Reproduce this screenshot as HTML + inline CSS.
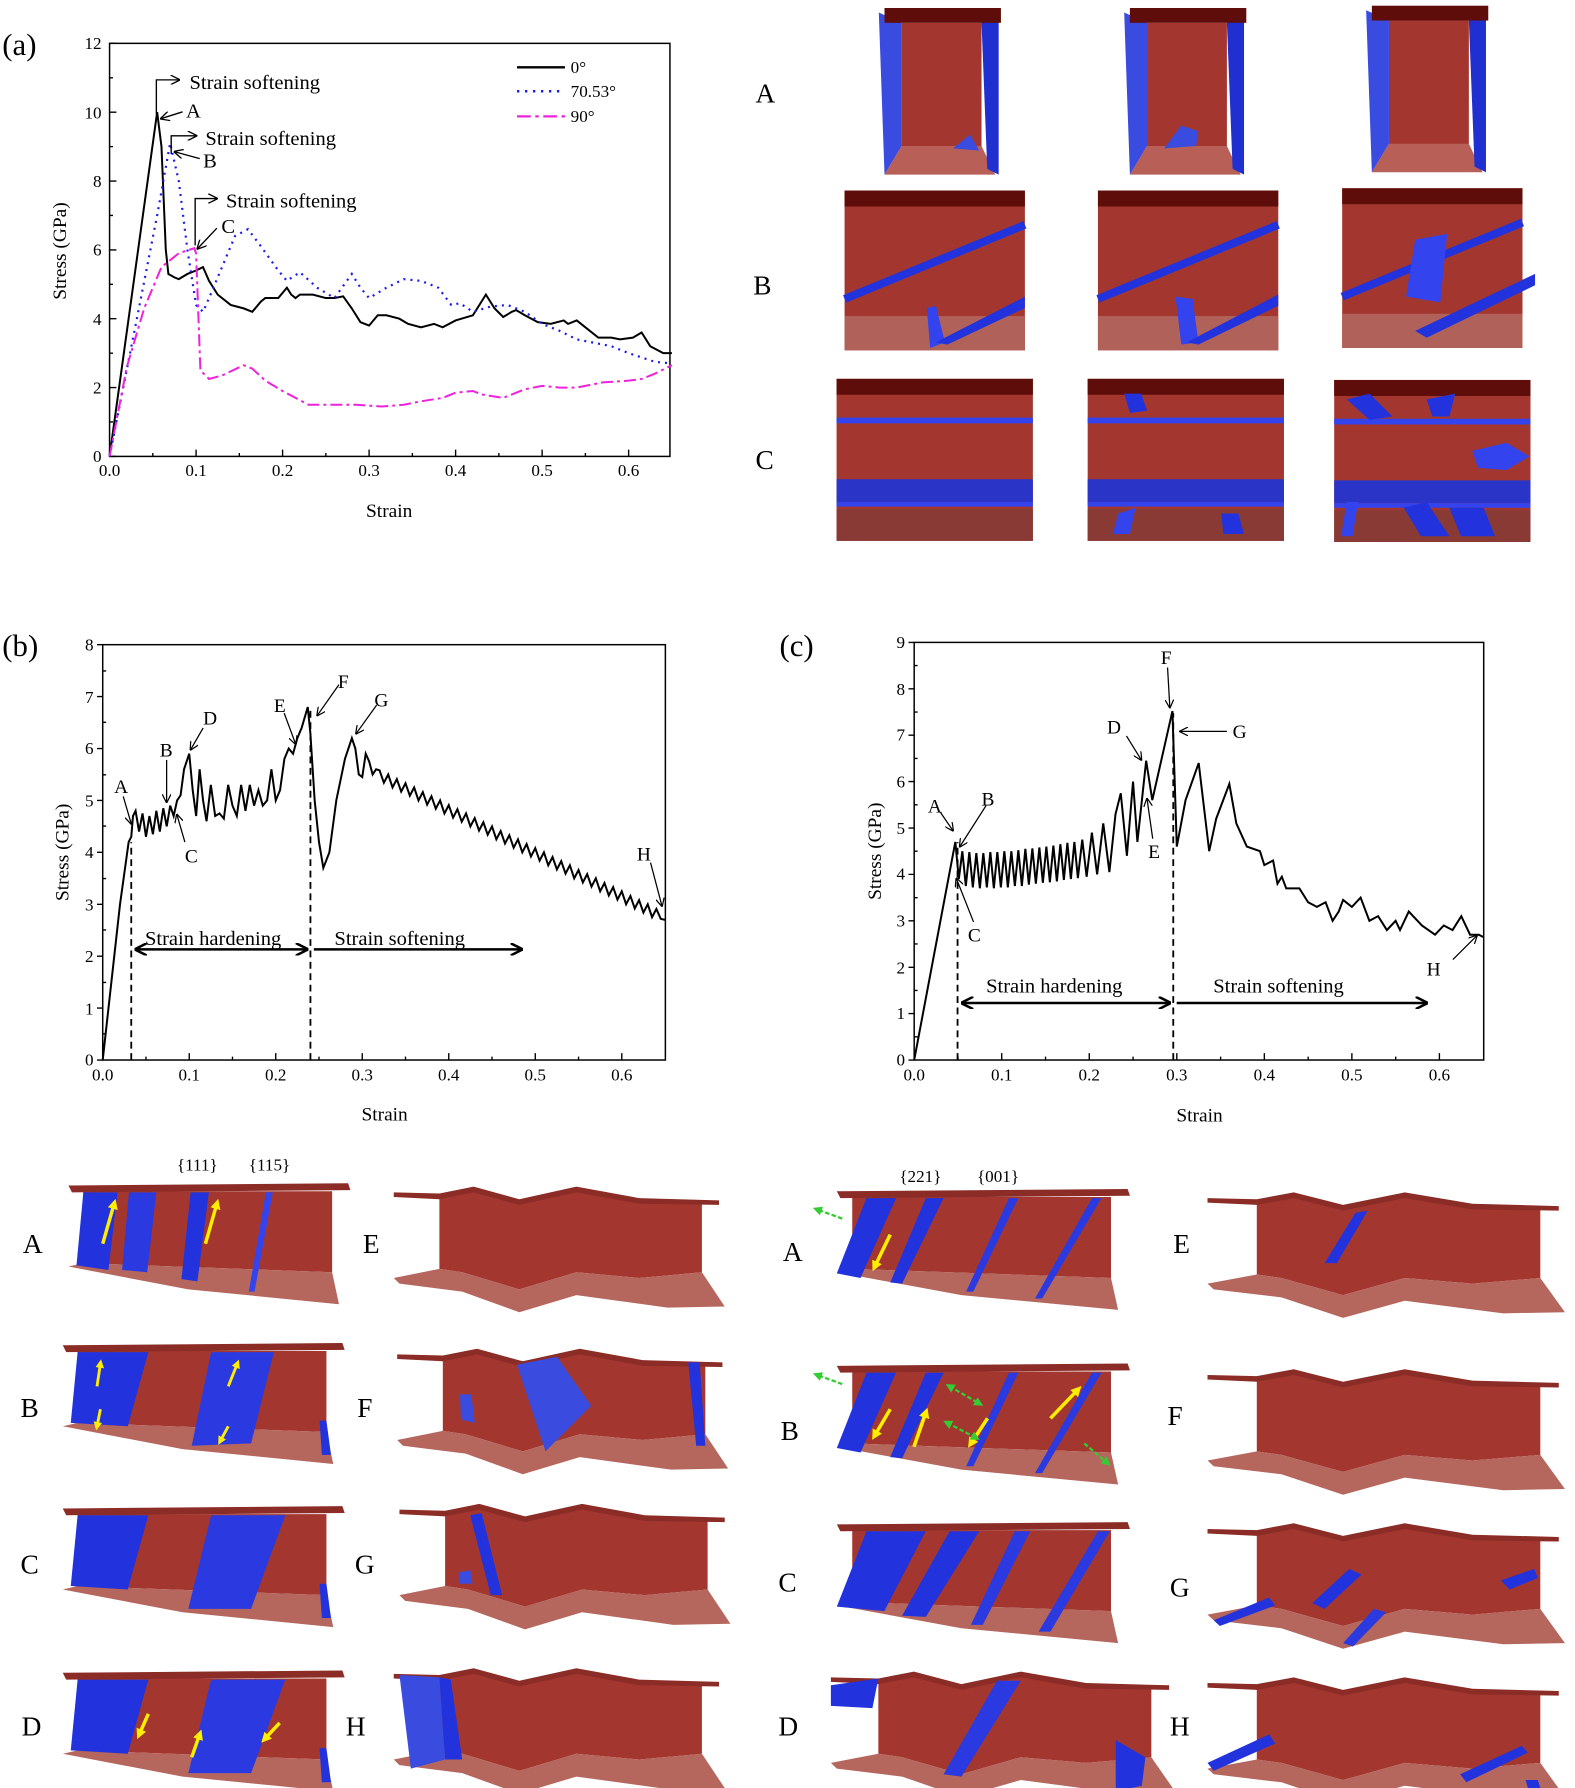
<!DOCTYPE html>
<html><head><meta charset="utf-8"><style>
html,body{margin:0;padding:0;background:#fff;}
svg{display:block;}
text{font-family:"Liberation Serif",serif;fill:#000;}
</style></head><body>
<svg width="1575" height="1788" viewBox="0 0 1380 1567" preserveAspectRatio="none" xmlns="http://www.w3.org/2000/svg">
<defs>
<marker id="ar" viewBox="0 0 10 10" refX="9" refY="5" markerWidth="7" markerHeight="7" orient="auto-start-reverse"><path d="M0,0 L10,5 L0,10" fill="none" stroke="#000" stroke-width="1.4"/></marker>
<marker id="arf" viewBox="0 0 10 10" refX="9" refY="5" markerWidth="5" markerHeight="5" orient="auto-start-reverse"><path d="M0,0 L10,5 L0,10" fill="none" stroke="#000" stroke-width="2"/></marker>
<marker id="ya" viewBox="0 0 10 10" refX="5" refY="5" markerWidth="3" markerHeight="3" orient="auto"><path d="M0,0 L10,5 L0,10z" fill="#ffee00"/></marker>
<marker id="ga" viewBox="0 0 10 10" refX="5" refY="5" markerWidth="4" markerHeight="4" orient="auto-start-reverse"><path d="M0,0 L10,5 L0,10z" fill="#33cc33"/></marker>
<g id="L">
<polygon points="18,9 236,9 236,80 18,72" fill="#a3372f"/>
<polygon points="5,75 18,72 236,80 242,108 110,95" fill="#b5665d"/>
<polygon points="5,4 250,2 252,8 8,10" fill="#8c2c26"/>
</g>
<g id="Z">
<polygon points="40,10 70,3 110,14 160,3 215,14 270,12 270,75 215,80 160,75 110,90 60,75 40,72" fill="#a3372f"/>
<polygon points="0,80 40,72 60,75 110,90 160,75 215,80 270,75 290,105 240,106 160,95 110,110 60,92 5,85" fill="#b5665d"/>
<polygon points="0,5 40,6 70,0 110,11 160,0 215,10 285,12 285,16 215,15 160,5 110,16 70,5 40,11 0,9" fill="#8c2c26"/>
</g>
<g id="TA">
<rect x="20" y="17" width="70" height="110" fill="#a3372f"/>
<polygon points="20,125 90,125 102,150 5,150" fill="#b86058"/>
<polygon points="0,8 20,17 20,125 5,150" fill="#3a4be0"/>
<polygon points="90,17 105,8 105,150 95,145" fill="#1f2fd0"/>
<rect x="5" y="4" width="102" height="13" fill="#5e0d0a"/>
</g>
<g id="TB">
<rect x="0" y="0" width="158" height="140" fill="#a3372f"/>
<rect x="0" y="110" width="158" height="30" fill="#b0625a"/>
<rect x="0" y="0" width="158" height="14" fill="#5e0d0a"/>
<line x1="0" y1="95" x2="158" y2="30" stroke="#2233dd" stroke-width="7"/>
</g>
<g id="TC">
<rect x="0" y="0" width="172" height="142" fill="#a3372f"/>
<rect x="0" y="0" width="172" height="14" fill="#5e0d0a"/>
<rect x="0" y="34" width="172" height="5" fill="#3344ee"/>
<rect x="0" y="88" width="172" height="20" fill="#2a35c8"/>
<rect x="0" y="108" width="172" height="4" fill="#3344ee"/>
<rect x="0" y="114" width="172" height="28" fill="#8a3a34"/>
</g>
</defs>

<!-- ===== (a) ===== -->
<text x="2" y="48" font-size="27">(a)</text>
<rect x="96" y="38" width="491" height="362" fill="none" stroke="#000" stroke-width="1.3"/>
<path d="M96,400v-6M171.8,400v-6M247.6,400v-6M323.4,400v-6M399.2,400v-6M475,400v-6M550.8,400v-6M133.9,400v-3M209.7,400v-3M285.5,400v-3M361.3,400v-3M437.1,400v-3M512.9,400v-3M96,400h6M96,339.7h6M96,279.3h6M96,219h6M96,158.7h6M96,98.3h6M96,38h6M96,369.8h3M96,309.5h3M96,249.2h3M96,188.8h3M96,128.5h3M96,68.2h3" stroke="#000" stroke-width="1.2"/>
<g font-size="15" text-anchor="middle">
<text x="96" y="417">0.0</text><text x="171.8" y="417">0.1</text><text x="247.6" y="417">0.2</text><text x="323.4" y="417">0.3</text><text x="399.2" y="417">0.4</text><text x="475" y="417">0.5</text><text x="550.8" y="417">0.6</text>
</g>
<g font-size="15" text-anchor="end">
<text x="89" y="405">0</text><text x="89" y="345">2</text><text x="89" y="285">4</text><text x="89" y="224">6</text><text x="89" y="164">8</text><text x="89" y="104">10</text><text x="89" y="43">12</text>
</g>
<text x="341" y="453" font-size="17" text-anchor="middle">Strain</text>
<text transform="translate(58,220) rotate(-90)" font-size="17" text-anchor="middle">Stress (GPa)</text>
<g transform="translate(96,400) scale(0.758,-0.3017)" fill="none">
<path vector-effect="non-scaling-stroke" stroke="#000" stroke-width="2" d="M0,0L55,1000L60,900L65,600L68,530L75,520L80,515L90,530L100,540L108,550L115,510L125,470L140,440L155,430L165,420L175,450L180,460L195,460L205,490L210,470L215,460L220,470L235,470L250,460L260,460L270,465L280,430L290,390L300,380L310,410L320,410L335,400L345,385L360,375L375,385L385,375L400,395L420,410L435,470L445,430L455,405L465,420L470,425L480,410L495,390L510,385L525,395L530,385L540,395L550,375L565,345L580,345L590,340L605,345L615,360L625,320L640,300L650,300"/>
<path vector-effect="non-scaling-stroke" stroke="#1a1aee" stroke-width="2.2" stroke-dasharray="2,5" d="M0,0L30,380L55,700L70,910L80,800L90,600L100,440L108,420L115,460L130,550L145,640L160,660L175,610L195,540L205,510L220,535L240,490L260,460L280,530L290,490L300,460L320,490L340,515L360,510L380,490L395,440L405,445L420,420L440,435L460,440L480,420L500,385L520,365L540,340L580,320L600,300L630,275L650,270"/>
<path vector-effect="non-scaling-stroke" stroke="#ee22dd" stroke-width="2" stroke-dasharray="12,4,3,4" d="M0,0L20,260L40,430L60,550L80,590L98,605L100,590L105,250L115,225L130,235L155,265L165,255L180,220L200,190L230,150L255,150L285,150L315,145L340,150L360,160L385,170L400,185L420,190L430,180L455,170L480,195L500,205L520,200L540,200L570,215L600,220L615,225L630,240L650,265"/>
</g>
<line x1="453" y1="59" x2="495" y2="59" stroke="#000" stroke-width="2"/>
<line x1="453" y1="80" x2="495" y2="80" stroke="#1a1aee" stroke-width="2.2" stroke-dasharray="2,5"/>
<line x1="453" y1="102" x2="495" y2="102" stroke="#ee22dd" stroke-width="2" stroke-dasharray="12,4,3,4"/>
<g font-size="15"><text x="500" y="64">0°</text><text x="500" y="85">70.53°</text><text x="500" y="107">90°</text></g>
<g fill="none" stroke="#000" stroke-width="1.2">
<path d="M137,100V70H157" marker-end="url(#ar)"/>
<path d="M150,135V119H172" marker-end="url(#ar)"/>
<path d="M171,215V174H190" marker-end="url(#ar)"/>
<path d="M160,98L141,104" marker-end="url(#ar)"/>
<path d="M175,139L153,133" marker-end="url(#ar)"/>
<path d="M190,200L173,218" marker-end="url(#ar)"/>
</g>
<g font-size="18">
<text x="166" y="78">Strain softening</text><text x="180" y="127">Strain softening</text><text x="198" y="182">Strain softening</text>
<text x="163" y="103">A</text><text x="178" y="147">B</text><text x="194" y="204">C</text>
</g>

<!-- top-right images -->
<g font-size="24"><text x="662" y="90">A</text><text x="660" y="258">B</text><text x="662" y="411">C</text></g>
<use href="#TA" x="770" y="3"/><use href="#TA" x="985" y="3"/><use href="#TA" x="1197" y="1"/>
<polygon points="835,130 850,118 858,132" fill="#3a4be0"/>
<polygon points="1020,130 1035,110 1050,115 1048,128" fill="#3a4be0"/>
<use href="#TB" x="740" y="167"/><use href="#TB" x="962" y="167"/><use href="#TB" x="1176" y="165"/>
<polygon points="812,270 820,268 828,300 815,305" fill="#3344ee"/>
<polygon points="820,300 898,260 898,270 830,302" fill="#2233dd"/>
<polygon points="1030,260 1045,262 1050,300 1035,302" fill="#3344ee"/>
<polygon points="1040,300 1120,258 1120,268 1050,302" fill="#2233dd"/>
<polygon points="1240,210 1268,205 1262,265 1232,260" fill="#3344ee"/>
<polygon points="1240,290 1345,240 1345,250 1250,296" fill="#2233dd"/>
<use href="#TC" x="733" y="332"/><use href="#TC" x="953" y="332"/><use href="#TC" x="1169" y="333"/>
<polygon points="1290,395 1320,388 1340,400 1320,412 1295,410" fill="#3344ee"/>
<polygon points="1180,440 1190,440 1185,470 1175,470" fill="#3344ee"/>
<polygon points="1230,445 1250,440 1270,470 1245,470" fill="#2233dd"/>
<polygon points="1270,445 1300,445 1310,470 1280,470" fill="#2233dd"/>
<polygon points="1180,350 1200,345 1220,365 1200,368" fill="#2233dd"/>
<polygon points="1250,350 1275,345 1270,365 1255,365" fill="#2233dd"/>
<polygon points="980,450 995,445 990,468 975,468" fill="#3344ee"/>
<polygon points="1070,450 1085,450 1090,468 1072,468" fill="#2233dd"/>
<polygon points="985,345 1000,345 1005,360 990,362" fill="#2233dd"/>

<!-- ===== (b) ===== -->
<text x="2" y="575" font-size="27">(b)</text>
<rect x="90" y="565" width="493" height="364" fill="none" stroke="#000" stroke-width="1.3"/>
<path d="M90,929v-6M165.8,929v-6M241.6,929v-6M317.4,929v-6M393.2,929v-6M469,929v-6M544.8,929v-6M127.9,929v-3M203.7,929v-3M279.5,929v-3M355.3,929v-3M431.1,929v-3M506.9,929v-3M90,929h-5M90,883.5h-5M90,838h-5M90,792.5h-5M90,747h-5M90,701.5h-5M90,656h-5M90,610.5h-5M90,565h-5M90,906h3M90,861h3M90,815h3M90,770h3M90,724h3M90,679h3M90,633h3M90,588h3" stroke="#000" stroke-width="1.2"/>
<g font-size="15" text-anchor="middle">
<text x="90" y="947">0.0</text><text x="165.8" y="947">0.1</text><text x="241.6" y="947">0.2</text><text x="317.4" y="947">0.3</text><text x="393.2" y="947">0.4</text><text x="469" y="947">0.5</text><text x="544.8" y="947">0.6</text>
</g>
<g font-size="15" text-anchor="end">
<text x="82" y="934">0</text><text x="82" y="889">1</text><text x="82" y="843">2</text><text x="82" y="798">3</text><text x="82" y="752">4</text><text x="82" y="707">5</text><text x="82" y="661">6</text><text x="82" y="616">7</text><text x="82" y="570">8</text>
</g>
<text x="337" y="982" font-size="17" text-anchor="middle">Strain</text>
<text transform="translate(60,747) rotate(-90)" font-size="17" text-anchor="middle">Stress (GPa)</text>
<g transform="translate(90,929) scale(0.758,-0.455)" fill="none">
<path vector-effect="non-scaling-stroke" stroke="#000" stroke-width="2" d="M0,0L20,300L30,420L33,430L35,470L38,480L42,440L46,475L50,430L54,470L58,435L62,480L66,440L70,485L74,450L78,490L82,470L86,500L90,510L94,560L100,590L104,520L108,470L112,560L116,500L120,460L125,530L130,470L135,475L140,465L145,530L150,490L155,470L160,530L165,480L170,530L175,490L180,520L185,490L190,500L195,560L200,500L205,520L210,580L215,600L220,590L225,620L230,640L237,680L240,630L245,500L250,420L255,370L262,400L270,500L280,580L288,620L292,600L296,550L300,545L304,590L308,575L312,550L316,560L320,558L325,534L330,550L335,525L340,541L345,517L350,533L355,509L360,525L365,500L370,516L375,492L380,508L385,484L390,500L395,475L400,491L405,467L410,483L415,459L420,475L425,450L430,466L435,442L440,458L445,434L450,450L455,425L460,441L465,417L470,433L475,409L480,425L485,400L490,416L495,392L500,408L505,384L510,400L515,375L520,391L525,367L530,383L535,359L540,375L545,350L550,366L555,342L560,358L565,334L570,350L575,325L580,341L585,317L590,333L595,309L600,325L605,300L610,316L615,292L620,308L625,284L630,300L635,275L640,291L645,272L650,270"/>
</g>
<g stroke="#000" stroke-width="1.6" stroke-dasharray="6,4"><line x1="115" y1="929" x2="115" y2="738"/><line x1="272" y1="929" x2="272" y2="619"/></g>
<g stroke="#000" stroke-width="2.2" fill="none"><line x1="119" y1="832" x2="269" y2="832" marker-start="url(#arf)" marker-end="url(#arf)"/><line x1="275" y1="832" x2="457" y2="832" marker-end="url(#arf)"/></g>
<g font-size="18"><text x="127" y="828">Strain hardening</text><text x="293" y="828">Strain softening</text></g>
<g fill="none" stroke="#000" stroke-width="1.1">
<path d="M108,698L115,722" marker-end="url(#ar)"/>
<path d="M146,666L146,703" marker-end="url(#ar)"/>
<path d="M162,738L155,714" marker-end="url(#ar)"/>
<path d="M178,638L167,657" marker-end="url(#ar)"/>
<path d="M249,625L259,652" marker-end="url(#ar)"/>
<path d="M297,600L278,627" marker-end="url(#ar)"/>
<path d="M330,618L312,643" marker-end="url(#ar)"/>
<path d="M570,756L580,794" marker-end="url(#ar)"/>
</g>
<g font-size="17"><text x="100" y="695">A</text><text x="140" y="663">B</text><text x="162" y="756">C</text><text x="178" y="635">D</text><text x="240" y="624">E</text><text x="296" y="603">F</text><text x="328" y="619">G</text><text x="558" y="754">H</text></g>

<!-- ===== (c) ===== -->
<text x="683" y="575" font-size="27">(c)</text>
<rect x="801" y="563" width="499" height="366" fill="none" stroke="#000" stroke-width="1.3"/>
<path d="M801,929v-6M877.7,929v-6M954.4,929v-6M1031.1,929v-6M1107.8,929v-6M1184.5,929v-6M1261.2,929v-6M839.4,929v-3M916.1,929v-3M992.8,929v-3M1069.5,929v-3M1146.2,929v-3M1222.9,929v-3M801,929h-5M801,888.3h-5M801,847.7h-5M801,807h-5M801,766.3h-5M801,725.7h-5M801,685h-5M801,644.3h-5M801,603.7h-5M801,563h-5M801,908.7h3M801,868h3M801,827.3h3M801,786.7h3M801,746h3M801,705.3h3M801,664.7h3M801,624h3M801,583.3h3" stroke="#000" stroke-width="1.2"/>
<g font-size="15" text-anchor="middle">
<text x="801" y="947">0.0</text><text x="877.7" y="947">0.1</text><text x="954.4" y="947">0.2</text><text x="1031.1" y="947">0.3</text><text x="1107.8" y="947">0.4</text><text x="1184.5" y="947">0.5</text><text x="1261.2" y="947">0.6</text>
</g>
<g font-size="15" text-anchor="end">
<text x="793" y="934">0</text><text x="793" y="893">1</text><text x="793" y="853">2</text><text x="793" y="812">3</text><text x="793" y="771">4</text><text x="793" y="731">5</text><text x="793" y="690">6</text><text x="793" y="649">7</text><text x="793" y="609">8</text><text x="793" y="568">9</text>
</g>
<text x="1051" y="983" font-size="17" text-anchor="middle">Strain</text>
<text transform="translate(772,746) rotate(-90)" font-size="17" text-anchor="middle">Stress (GPa)</text>
<g transform="translate(801,929) scale(0.767,-0.4067)" fill="none">
<path vector-effect="non-scaling-stroke" stroke="#000" stroke-width="2" d="M0,0L47,470L51,390L55,450L59,375L63,448L67,372L71,446L75,370L79,446L83,372L87,448L91,370L95,448L99,372L103,450L107,372L111,450L115,375L119,452L123,375L127,455L131,378L135,456L139,380L143,458L147,382L151,460L155,383L159,462L163,385L167,465L171,388L175,468L179,390L183,470L187,392L192,475L197,395L203,490L209,400L216,510L223,405L230,530L236,575L243,440L250,600L255,470L265,645L272,560L295,752L300,460L310,560L325,640L337,450L345,520L360,595L368,510L380,460L395,450L400,420L410,430L415,380L420,395L425,370L440,370L450,340L460,330L470,340L478,300L485,320L490,345L500,330L510,350L520,300L530,310L540,280L550,300L555,280L565,320L580,290L595,270L605,290L615,280L625,310L635,270L645,270L650,265"/>
</g>
<g stroke="#000" stroke-width="1.6" stroke-dasharray="6,4"><line x1="839" y1="929" x2="839" y2="738"/><line x1="1028" y1="929" x2="1028" y2="625"/></g>
<g stroke="#000" stroke-width="2.2" fill="none"><line x1="843" y1="879" x2="1025" y2="879" marker-start="url(#arf)" marker-end="url(#arf)"/><line x1="1031" y1="879" x2="1250" y2="879" marker-end="url(#arf)"/></g>
<g font-size="18"><text x="864" y="870">Strain hardening</text><text x="1063" y="870">Strain softening</text></g>
<g fill="none" stroke="#000" stroke-width="1.1">
<path d="M824,712L835,728" marker-end="url(#ar)"/>
<path d="M864,706L841,742" marker-end="url(#ar)"/>
<path d="M853,808L838,770" marker-end="url(#ar)"/>
<path d="M987,645L1000,666" marker-end="url(#ar)"/>
<path d="M1010,735L1005,700" marker-end="url(#ar)"/>
<path d="M1023,585L1025,620" marker-end="url(#ar)"/>
<path d="M1075,641L1034,641" marker-end="url(#ar)"/>
<path d="M1273,841L1294,820" marker-end="url(#ar)"/>
</g>
<g font-size="17"><text x="813" y="712">A</text><text x="860" y="706">B</text><text x="848" y="825">C</text><text x="970" y="643">D</text><text x="1006" y="752">E</text><text x="1017" y="582">F</text><text x="1080" y="647">G</text><text x="1250" y="855">H</text></g>

<!-- ===== bottom (b) images ===== -->
<g font-size="15"><text x="155" y="1026">{111}</text><text x="218" y="1026">{115}</text><text x="788" y="1036">{221}</text><text x="856" y="1036">{001}</text></g>
<g font-size="24">
<text x="20" y="1098">A</text><text x="318" y="1098">E</text>
<text x="18" y="1242">B</text><text x="313" y="1242">F</text>
<text x="18" y="1379">C</text><text x="311" y="1379">G</text>
<text x="19" y="1521">D</text><text x="303" y="1521">H</text>
<text x="686" y="1105">A</text><text x="1028" y="1098">E</text>
<text x="684" y="1262">B</text><text x="1023" y="1249">F</text>
<text x="682" y="1395">C</text><text x="1025" y="1399">G</text>
<text x="682" y="1521">D</text><text x="1025" y="1521">H</text>
</g>
<g transform="translate(55,1035)"><use href="#L"/>
<polygon points="18,10 48,10 40,78 12,74" fill="#2233dd"/><polygon points="58,10 82,10 74,80 52,78" fill="#2a3ae0"/>
<polygon points="112,10 128,10 118,88 104,86" fill="#2233dd"/><polygon points="178,10 184,10 168,97 163,97" fill="#3344ee"/>
<line x1="35" y1="55" x2="45" y2="20" stroke="#ffee00" stroke-width="3" marker-end="url(#ya)"/><line x1="125" y1="55" x2="135" y2="20" stroke="#ffee00" stroke-width="3" marker-end="url(#ya)"/></g>
<g transform="translate(50,1175)"><use href="#L"/>
<polygon points="18,10 80,10 62,75 12,72" fill="#2233dd"/><polygon points="135,10 190,10 170,90 118,92" fill="#2a3ae0"/>
<polygon points="230,70 236,70 240,100 232,100" fill="#2233dd"/>
<line x1="35" y1="40" x2="38" y2="20" stroke="#ffee00" stroke-width="2.5" marker-end="url(#ya)"/><line x1="38" y1="60" x2="35" y2="75" stroke="#ffee00" stroke-width="2.5" marker-end="url(#ya)"/>
<line x1="150" y1="40" x2="158" y2="20" stroke="#ffee00" stroke-width="2.5" marker-end="url(#ya)"/><line x1="150" y1="75" x2="143" y2="88" stroke="#ffee00" stroke-width="2.5" marker-end="url(#ya)"/></g>
<g transform="translate(50,1318)"><use href="#L"/>
<polygon points="18,10 80,10 62,75 12,72" fill="#2233dd"/><polygon points="135,10 200,10 170,92 115,92" fill="#2a3ae0"/>
<polygon points="230,70 236,70 240,100 232,100" fill="#2233dd"/></g>
<g transform="translate(50,1462)"><use href="#L"/>
<polygon points="18,10 80,10 62,75 12,72" fill="#2233dd"/><polygon points="135,10 200,10 170,92 115,92" fill="#2a3ae0"/>
<polygon points="230,70 236,70 240,100 232,100" fill="#2233dd"/>
<line x1="80" y1="40" x2="72" y2="58" stroke="#ffee00" stroke-width="3" marker-end="url(#ya)"/><line x1="118" y1="78" x2="125" y2="58" stroke="#ffee00" stroke-width="3" marker-end="url(#ya)"/><line x1="195" y1="48" x2="182" y2="62" stroke="#ffee00" stroke-width="3" marker-end="url(#ya)"/></g>
<g transform="translate(345,1040)"><use href="#Z"/></g>
<g transform="translate(348,1182)"><use href="#Z"/>
<polygon points="105,14 140,7 170,50 130,90" fill="#3a4be0"/><polygon points="255,12 265,12 270,85 262,85" fill="#2233dd"/><polygon points="55,40 65,40 68,65 56,62" fill="#3a4be0"/></g>
<g transform="translate(350,1318)"><use href="#Z"/><polygon points="62,10 72,8 90,80 80,80" fill="#2233dd"/><polygon points="52,60 62,58 64,70 52,70" fill="#3a4be0"/></g>
<g transform="translate(345,1462)"><use href="#Z"/><polygon points="5,6 40,8 45,80 15,88" fill="#3a4be0"/><polygon points="40,8 50,10 60,80 45,80" fill="#2233dd"/></g>

<!-- ===== bottom (c) images ===== -->
<g transform="translate(728,1040) scale(1.04,1)"><use href="#L"/>
<polygon points="30,10 55,10 25,80 5,76" fill="#2233dd"/><polygon points="80,10 95,10 60,85 50,84" fill="#2233dd"/>
<polygon points="150,10 158,10 120,92 114,92" fill="#2a3ae0"/><polygon points="220,10 228,10 178,98 172,98" fill="#2a3ae0"/>
<line x1="50" y1="42" x2="37" y2="70" stroke="#ffee00" stroke-width="3" marker-end="url(#ya)"/></g>
<line x1="738" y1="1068" x2="716" y2="1060" stroke="#33cc33" stroke-width="2" stroke-dasharray="4,2" marker-end="url(#ga)"/>
<g transform="translate(728,1193) scale(1.04,1)"><use href="#L"/>
<polygon points="30,10 55,10 25,80 5,76" fill="#2233dd"/><polygon points="80,10 95,10 60,85 50,84" fill="#2233dd"/>
<polygon points="150,10 158,10 120,92 114,92" fill="#2a3ae0"/><polygon points="220,10 228,10 178,98 172,98" fill="#2a3ae0"/>
<line x1="50" y1="42" x2="37" y2="65" stroke="#ffee00" stroke-width="3" marker-end="url(#ya)"/><line x1="70" y1="75" x2="80" y2="45" stroke="#ffee00" stroke-width="3" marker-end="url(#ya)"/>
<line x1="132" y1="50" x2="118" y2="72" stroke="#ffee00" stroke-width="3" marker-end="url(#ya)"/><line x1="185" y1="50" x2="208" y2="25" stroke="#ffee00" stroke-width="3" marker-end="url(#ya)"/></g>
<g stroke="#33cc33" stroke-width="2" stroke-dasharray="4,2" fill="none">
<line x1="738" y1="1213" x2="716" y2="1205" marker-end="url(#ga)"/><line x1="832" y1="1215" x2="858" y2="1230" marker-start="url(#ga)" marker-end="url(#ga)"/>
<line x1="830" y1="1247" x2="855" y2="1260" marker-start="url(#ga)" marker-end="url(#ga)"/><line x1="950" y1="1265" x2="970" y2="1282" marker-end="url(#ga)"/></g>
<g transform="translate(728,1332) scale(1.04,1)"><use href="#L"/>
<polygon points="30,10 80,10 45,80 5,76" fill="#2233dd"/><polygon points="100,10 125,10 80,85 60,84" fill="#2233dd"/>
<polygon points="155,10 168,10 128,92 118,92" fill="#2a3ae0"/><polygon points="225,10 235,10 185,98 175,98" fill="#2a3ae0"/></g>
<g transform="translate(728,1465) scale(1.04,1)"><use href="#Z"/>
<polygon points="0,12 40,6 35,32 0,30" fill="#2233dd"/><polygon points="140,8 160,8 110,92 95,90" fill="#2a3ae0"/><polygon points="240,60 265,75 262,100 240,105" fill="#2233dd"/></g>
<g transform="translate(1058,1045) scale(1.08,1)"><use href="#Z"/><polygon points="120,18 130,16 105,62 95,62" fill="#2233dd"/></g>
<g transform="translate(1058,1200) scale(1.08,1)"><use href="#Z"/></g>
<g transform="translate(1058,1335) scale(1.08,1)"><use href="#Z"/>
<polygon points="5,85 50,65 55,72 10,90" fill="#2233dd"/><polygon points="85,70 115,40 125,45 95,75" fill="#2233dd"/><polygon points="110,105 135,75 145,78 118,108" fill="#2a3ae0"/><polygon points="238,50 265,40 268,48 245,58" fill="#2233dd"/></g>
<g transform="translate(1058,1470) scale(1.08,1)"><use href="#Z"/>
<polygon points="0,75 50,50 55,58 5,82" fill="#2233dd"/><polygon points="205,85 255,60 260,66 210,92" fill="#2233dd"/><polygon points="258,90 268,90 272,104 262,104" fill="#2233dd"/></g>
</svg>
</body></html>
